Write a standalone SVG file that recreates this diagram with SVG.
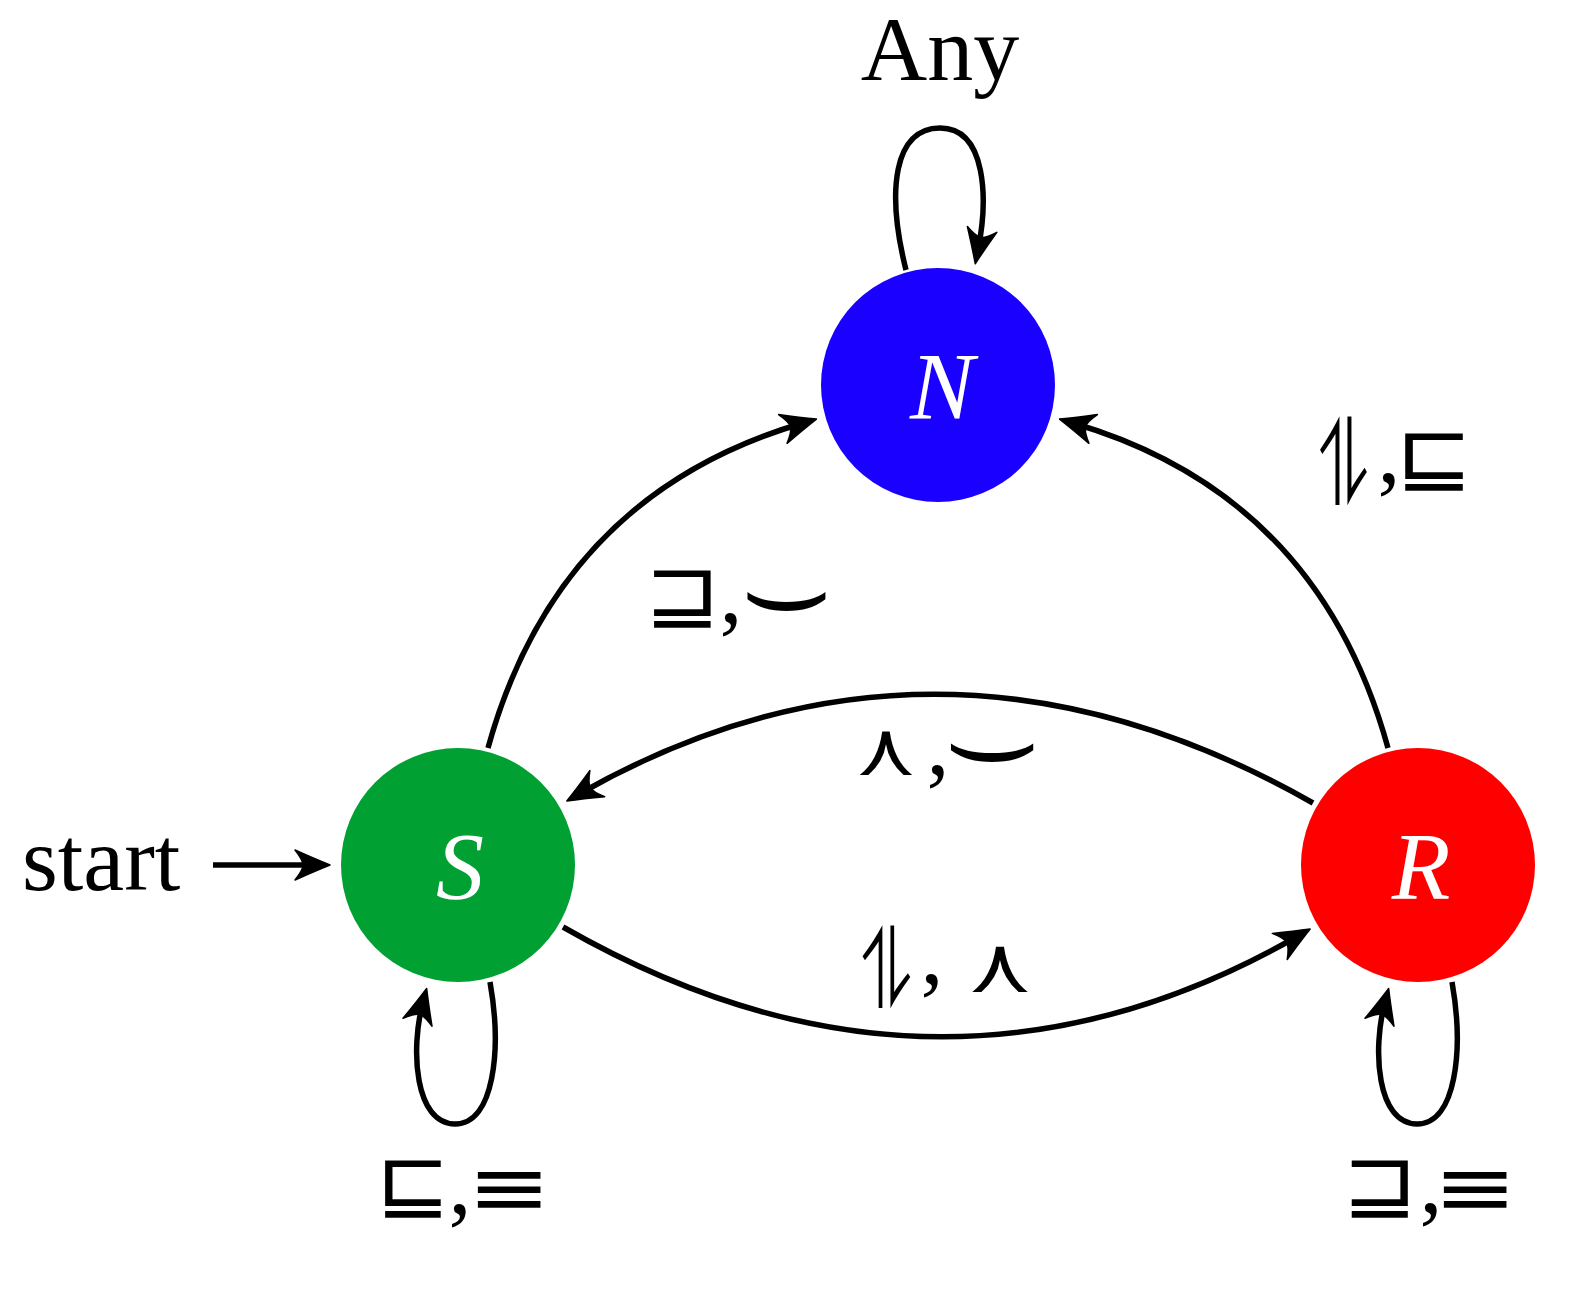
<svg xmlns="http://www.w3.org/2000/svg" width="1580" height="1292" viewBox="0 0 1580 1292">
<style>
.edge{fill:none;stroke:#000;stroke-width:5.5;marker-end:url(#ah)}
.lbl{font-family:"Liberation Serif",serif;font-size:92px;fill:#000}
.cm{font-family:"Liberation Serif",serif;font-size:92px;fill:#000;text-anchor:middle}
.sym{font-family:"DejaVu Sans","Noto Sans",sans-serif;font-size:80px;fill:#000;text-anchor:middle}
.nl{font-family:"Liberation Serif",serif;font-style:italic;font-size:96px;fill:#fff;text-anchor:middle}
</style>
<defs>
<marker id="ah" markerUnits="userSpaceOnUse" markerWidth="44" markerHeight="36" viewBox="-38 -18 44 36" refX="-12" refY="0" orient="auto">
<path d="M2,0 Q-13,-6 -33,-15 Q-25,-5 -25,0 Q-25,5 -33,15 Q-13,6 2,0 Z" fill="#000" stroke="#000" stroke-width="1.5" stroke-linejoin="round"/>
</marker>
</defs>
<rect width="1580" height="1292" fill="#fff"/>
<g id="connectors">
<path class="edge" d="M906,270 C886,190 894,128 940,128 C987,128 988,200 978,250"/>
<path class="edge" d="M490,982 C502,1050 494,1124 455,1124 C415,1124 410,1050 423,1002"/>
<path class="edge" d="M1452,982 C1464,1050 1456,1124 1417,1124 C1377,1124 1372,1050 1385,1002"/>
<path class="edge" d="M213,865 L316,865"/>
<path class="edge" d="M488,748 C540,560 660,465 803,423"/>
<path class="edge" d="M1388,748 C1336,560 1216,465 1073,423"/>
<path class="edge" d="M1313,803 Q938,590 579,794"/>
<path class="edge" d="M563,927 Q938,1142 1298,936"/>
</g>
<g id="node-N"><circle cx="938" cy="385" r="117" fill="#1a00ff"/><text class="nl" x="942" y="419">N</text></g>
<g id="node-S"><circle cx="458" cy="865" r="117" fill="#00a032"/><text class="nl" x="460" y="899">S</text></g>
<g id="node-R"><circle cx="1418" cy="865" r="117" fill="#ff0000"/><text class="nl" x="1421" y="899">R</text></g>
<g id="labels">
<text class="lbl" x="940" y="80" text-anchor="middle">Any</text>
<text class="lbl" x="22" y="890">start</text>
<g id="label-RN">
<text class="sym" transform="translate(1344,505) scale(0.6,1.05)" style="font-size:112px">⥮</text>
<text class="cm" x="1389" y="482">,</text>
<text class="sym" transform="translate(1434,484) scale(1.15,1)">⊑</text>
</g>
<g id="label-SN">
<text class="sym" transform="translate(682,621) scale(1.13,1)">⊒</text>
<text class="cm" x="731" y="622">,</text>
<text class="sym" transform="translate(786,628) scale(1.8,1.4)">⌣</text>
</g>
<g id="label-RS">
<text class="sym" transform="translate(886,775) scale(1.1,1)" style="font-size:75px">⋏</text>
<text class="cm" x="938" y="774">,</text>
<text class="sym" transform="translate(992,778) scale(1.9,1.35)">⌣</text>
</g>
<g id="label-SR">
<text class="sym" transform="translate(887,1008) scale(0.62,1)" style="font-size:110px">⥮</text>
<text class="cm" x="932" y="983">,</text>
<text class="sym" transform="translate(1000,992) scale(1.12,1)" style="font-size:78px">⋏</text>
</g>
<g id="label-SS">
<text class="sym" transform="translate(413,1211) scale(1.11,1)">⊑</text>
<text class="cm" x="460" y="1213">,</text>
<text class="sym" transform="translate(509,1215) scale(1.25,1)">≡</text>
</g>
<g id="label-RR">
<text class="sym" transform="translate(1380,1211) scale(1.12,1)">⊒</text>
<text class="cm" x="1431" y="1212">,</text>
<text class="sym" transform="translate(1475,1215) scale(1.25,1)">≡</text>
</g>
</g>
</svg>
